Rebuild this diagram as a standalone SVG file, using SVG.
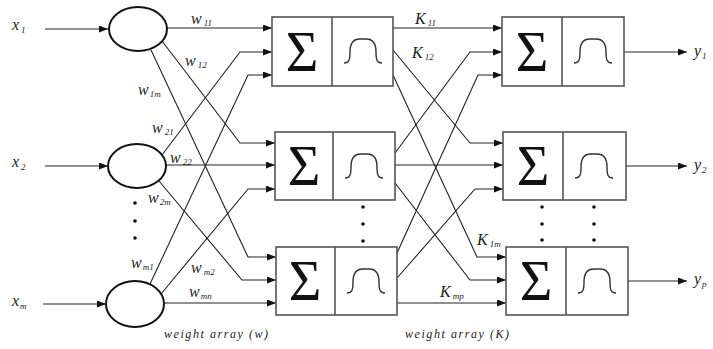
<svg xmlns="http://www.w3.org/2000/svg" width="713" height="349" viewBox="0 0 713 349">
<style>
.box{fill:#fff;stroke:#555;stroke-width:1.6}
.div{stroke:#555;stroke-width:1.6}
.neu{fill:#fff;stroke:#111;stroke-width:2}
.ln{fill:none;stroke:#222;stroke-width:1.1}
.bell{fill:none;stroke:#333;stroke-width:1.4}
.sig{font-family:"Liberation Serif",serif;font-size:56px;fill:#111;text-anchor:middle}
.lb{font-family:"Liberation Serif",serif;font-style:italic;font-size:16px;fill:#222}
.sb{font-size:9px}
.cap{font-family:"Liberation Serif",serif;font-style:italic;font-size:12px;fill:#222}
.dot{fill:#111}
</style>
<defs>
<marker id="ah" markerUnits="userSpaceOnUse" markerWidth="9" markerHeight="7" refX="9" refY="3.5" orient="auto">
<path d="M0,0 L9,3.5 L0,7 z" fill="#111"/>
</marker>
<path id="bellc" d="M-19,12 C-14,12 -13,9 -13,1 C-13,-8 -10,-12 -3,-12 L3,-12 C10,-12 13,-8 13,1 C13,9 14,12 19,12"/>
</defs>
<rect width="713" height="349" fill="#fff"/>

<g id="connectors">
<path class="ln" marker-end="url(#ah)" d="M45,29 H108"/>
<path class="ln" marker-end="url(#ah)" d="M45,166 H108"/>
<path class="ln" marker-end="url(#ah)" d="M43,304 H106"/>

<path class="ln" marker-end="url(#ah)" d="M167,28 H272"/>
<path class="ln" marker-end="url(#ah)" d="M162,41 L240,143 H275"/>
<path class="ln" marker-end="url(#ah)" d="M151,50 L248,257 H276"/>
<path class="ln" marker-end="url(#ah)" d="M162,155 L240,52 H272"/>
<path class="ln" marker-end="url(#ah)" d="M166,165 H275"/>
<path class="ln" marker-end="url(#ah)" d="M159,181 L242,280 H276"/>
<path class="ln" marker-end="url(#ah)" d="M150,284 L248,75 H272"/>
<path class="ln" marker-end="url(#ah)" d="M161,294 L248,189 H275"/>
<path class="ln" marker-end="url(#ah)" d="M164,303 H276"/>

<path class="ln" marker-end="url(#ah)" d="M393,28 H502"/>
<path class="ln" marker-end="url(#ah)" d="M393,50 L470,143 H503"/>
<path class="ln" marker-end="url(#ah)" d="M393,75 L477,257 H506"/>
<path class="ln" marker-end="url(#ah)" d="M395,153 L470,52 H502"/>
<path class="ln" marker-end="url(#ah)" d="M395,165 H503"/>
<path class="ln" marker-end="url(#ah)" d="M395,183 L470,280 H506"/>
<path class="ln" marker-end="url(#ah)" d="M397,253 L478,75 H502"/>
<path class="ln" marker-end="url(#ah)" d="M397,278 L475,189 H503"/>
<path class="ln" marker-end="url(#ah)" d="M397,303 H506"/>

<path class="ln" marker-end="url(#ah)" d="M624,52 H687"/>
<path class="ln" marker-end="url(#ah)" d="M626,166 H687"/>
<path class="ln" marker-end="url(#ah)" d="M628,281 H687"/>
</g>

<g id="input1">
<ellipse class="neu" cx="138" cy="29" rx="29" ry="22"/>
<text class="lb" x="12" y="30">x<tspan class="sb" dx="2" dy="3">1</tspan></text>
</g>
<g id="input2">
<ellipse class="neu" cx="137" cy="166" rx="29" ry="22"/>
<text class="lb" x="12" y="167">x<tspan class="sb" dx="2" dy="3">2</tspan></text>
</g>
<g id="inputm">
<ellipse class="neu" cx="135" cy="304" rx="29" ry="23"/>
<text class="lb" x="12" y="306">x<tspan class="sb" dx="1" dy="3">m</tspan></text>
</g>
<g id="input-dots">
<circle class="dot" cx="135" cy="203" r="1.8"/>
<circle class="dot" cx="135" cy="221" r="1.8"/>
<circle class="dot" cx="135" cy="238" r="1.8"/>
</g>

<g id="hidden1">
<rect class="box" x="272" y="17" width="121" height="69"/>
<line class="div" x1="332" y1="17" x2="332" y2="86"/>
<text class="sig" x="302" y="71">Σ</text>
<use href="#bellc" class="bell" transform="translate(363,51)"/>
</g>
<g id="hidden2">
<rect class="box" x="275" y="132" width="120" height="68"/>
<line class="div" x1="333" y1="132" x2="333" y2="200"/>
<text class="sig" x="304" y="185">Σ</text>
<use href="#bellc" class="bell" transform="translate(364,166)"/>
</g>
<g id="hidden3">
<rect class="box" x="276" y="247" width="121" height="68"/>
<line class="div" x1="335" y1="247" x2="335" y2="315"/>
<text class="sig" x="305" y="300">Σ</text>
<use href="#bellc" class="bell" transform="translate(366,281)"/>
</g>
<g id="hidden-dots">
<circle class="dot" cx="363" cy="207" r="1.8"/>
<circle class="dot" cx="363" cy="224" r="1.8"/>
<circle class="dot" cx="363" cy="241" r="1.8"/>
</g>

<g id="output1">
<rect class="box" x="502" y="17" width="122" height="69"/>
<line class="div" x1="562" y1="17" x2="562" y2="86"/>
<text class="sig" x="532" y="71">Σ</text>
<use href="#bellc" class="bell" transform="translate(593,51)"/>
<text class="lb" x="694" y="56">y<tspan class="sb" dx="1" dy="3">1</tspan></text>
</g>
<g id="output2">
<rect class="box" x="503" y="132" width="123" height="68"/>
<line class="div" x1="563" y1="132" x2="563" y2="200"/>
<text class="sig" x="533" y="185">Σ</text>
<use href="#bellc" class="bell" transform="translate(594,166)"/>
<text class="lb" x="694" y="170">y<tspan class="sb" dx="1" dy="3">2</tspan></text>
</g>
<g id="output3">
<rect class="box" x="506" y="247" width="122" height="68"/>
<line class="div" x1="566" y1="247" x2="566" y2="315"/>
<text class="sig" x="536" y="300">Σ</text>
<use href="#bellc" class="bell" transform="translate(597,281)"/>
<text class="lb" x="694" y="284">y<tspan class="sb" dx="1" dy="3">p</tspan></text>
</g>
<g id="output-dots">
<circle class="dot" cx="542" cy="207" r="1.8"/>
<circle class="dot" cx="542" cy="224" r="1.8"/>
<circle class="dot" cx="542" cy="240" r="1.8"/>
<circle class="dot" cx="594" cy="207" r="1.8"/>
<circle class="dot" cx="594" cy="224" r="1.8"/>
<circle class="dot" cx="594" cy="240" r="1.8"/>
</g>

<g id="weight-labels">
<text class="lb" x="191" y="24">w<tspan class="sb" dx="2" dy="2">11</tspan></text>
<text class="lb" x="185" y="66">w<tspan class="sb" dx="2" dy="2">12</tspan></text>
<text class="lb" x="138" y="95">w<tspan class="sb" dx="1" dy="2">1m</tspan></text>
<text class="lb" x="152" y="133">w<tspan class="sb" dx="2" dy="2">21</tspan></text>
<text class="lb" x="170" y="163">w<tspan class="sb" dx="2" dy="2">22</tspan></text>
<text class="lb" x="148" y="203">w<tspan class="sb" dx="1" dy="2">2m</tspan></text>
<text class="lb" x="131" y="268">w<tspan class="sb" dx="1" dy="2">m1</tspan></text>
<text class="lb" x="191" y="273">w<tspan class="sb" dx="2" dy="2">m2</tspan></text>
<text class="lb" x="189" y="297">w<tspan class="sb" dx="1" dy="2">mn</tspan></text>
<text class="lb" x="415" y="24">K<tspan class="sb" dx="2" dy="2">11</tspan></text>
<text class="lb" x="412" y="58">K<tspan class="sb" dx="2" dy="2">12</tspan></text>
<text class="lb" x="477" y="245">K<tspan class="sb" dx="2" dy="2">1m</tspan></text>
<text class="lb" x="440" y="297">K<tspan class="sb" dx="2" dy="2">mp</tspan></text>
</g>

<g id="captions">
<text class="cap" x="164" y="338" textLength="104" lengthAdjust="spacing">weight array (w)</text>
<text class="cap" x="405" y="338" textLength="104" lengthAdjust="spacing">weight array (K)</text>
</g>
</svg>
